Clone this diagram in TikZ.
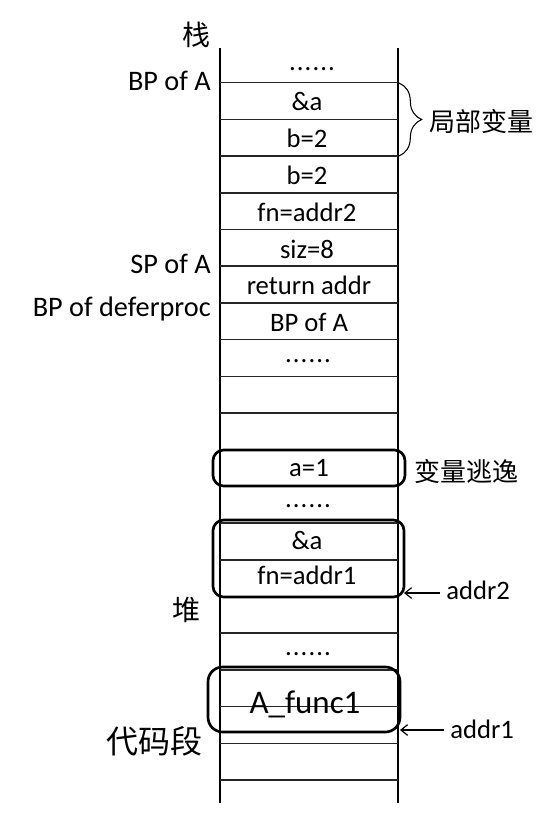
\documentclass[tikz,border=0pt]{standalone}
\usepackage{fontspec}
\setmainfont{Carlito}
\newfontfamily\cjk{Noto Sans CJK SC}
\usetikzlibrary{arrows.meta,decorations.pathreplacing}

\newcommand\sixdots{.\kern0.8pt.\kern0.8pt.\kern0.8pt.\kern0.8pt.\kern0.8pt.}

\begin{document}
\begin{tikzpicture}[x=0.75pt,y=0.75pt,yscale=-1,xscale=1,
	rowline/.style={line width=1.1pt,draw=black!85},
	colline/.style={line width=1.5pt},
	cell/.style={anchor=base,inner sep=0.75pt,font=\fontsize{20}{23}\selectfont},
	sidelabel/.style={inner sep=0.75pt,font=\fontsize{21.2}{24}\selectfont},
	hanzi/.style={inner sep=0.75pt,font=\cjk\fontsize{19.5}{23}\selectfont},
	rbox/.style={draw,line width=2pt,rounded corners=8pt,inner sep=0pt,outer sep=0pt},
	ptr/.style={-{Straight Barb[length=5pt,width=8pt]},line width=0.9pt}]
	\useasboundingbox (0,0) rectangle (545,820);

	%Straight Lines (left and right side of the column)
	\draw [colline]   (220,48) -- (220,803) ;
	\draw [colline]   (398,48) -- (398,803) ;

	%Straight Lines
	\draw [rowline]   (220,82.7) -- (398,82.7) ;
	%Straight Lines
	\draw [rowline]   (220,119.4) -- (398,119.4) ;
	%Straight Lines
	\draw [rowline]   (220,156.1) -- (398,156.1) ;
	%Straight Lines
	\draw [rowline]   (220,192.8) -- (398,192.8) ;
	%Straight Lines
	\draw [rowline]   (220,229.5) -- (398,229.5) ;
	%Straight Lines
	\draw [rowline]   (220,266.2) -- (398,266.2) ;
	%Straight Lines
	\draw [rowline]   (220,302.9) -- (398,302.9) ;
	%Straight Lines
	\draw [rowline]   (220,339.6) -- (398,339.6) ;
	%Straight Lines
	\draw [rowline]   (220,376.3) -- (398,376.3) ;
	%Straight Lines
	\draw [rowline]   (220,413) -- (398,413) ;
	%Straight Lines
	\draw [rowline]   (220,449.7) -- (398,449.7) ;
	%Straight Lines
	\draw [rowline]   (220,486.4) -- (398,486.4) ;
	%Straight Lines
	\draw [rowline]   (220,523.1) -- (398,523.1) ;
	%Straight Lines
	\draw [rowline]   (220,559.8) -- (398,559.8) ;
	%Straight Lines
	\draw [rowline]   (220,596.5) -- (398,596.5) ;
	%Straight Lines
	\draw [rowline]   (220,633.2) -- (398,633.2) ;
	%Straight Lines
	\draw [rowline]   (220,669.9) -- (398,669.9) ;
	%Straight Lines
	\draw [rowline]   (220,706.6) -- (398,706.6) ;
	%Straight Lines
	\draw [rowline]   (220,743.3) -- (398,743.3) ;
	%Straight Lines
	\draw [rowline]   (220,780) -- (398,780) ;

	% Rounded boxes
	\node (escbox) [rbox, minimum width=144pt, minimum height=27pt] at (309,468) {};
	\node (clobox) [rbox, minimum width=143.25pt, minimum height=57.75pt] at (308.5,558.5) {};
	\node (funcbox) [rbox, rounded corners=11pt, minimum width=144pt, minimum height=48.75pt] at (304,699.5) {};

	% Text Node
	\draw (312,71) node (topdots) [cell] {\sixdots};
	% Text Node
	\draw (307,111) node (ampa) [cell] {\&a};
	% Text Node
	\draw (307,147.5) node (bvar) [cell] {b=2};
	% Text Node
	\draw (307,184.5) node (bcopy) [cell] {b=2};
	% Text Node
	\draw (307,221) node (fnaddr) [cell] {fn=addr2};
	% Text Node
	\draw (307,258) node (siz) [cell] {siz=8};
	% Text Node
	\draw (309,294.5) node (retaddr) [cell] {return addr};
	% Text Node
	\draw (309,331) node (bpa) [cell] {BP of A};
	% Text Node
	\draw (308,362) node (middots) [cell] {\sixdots};
	% Text Node
	\draw (309,476) node (avar) [cell] {a=1};
	% Text Node
	\draw (308,507) node (heapdots) [cell] {\sixdots};
	% Text Node
	\draw (307,549) node (heapampa) [cell] {\&a};
	% Text Node
	\draw (307,584.3) node (fnaddrone) [cell] {fn=addr1};
	% Text Node
	\draw (308,655) node (codedots) [cell] {\sixdots};
	% Text Node
	\draw (305,713) node (functxt) [cell, font=\fontsize{24.75}{28}\selectfont] {A\_func1};

	% Text Node
	\draw (212,90.7) node (bpofa) [sidelabel, anchor=base east] {BP of A};
	% Text Node
	\draw (212,273.3) node (spofa) [sidelabel, anchor=base east] {SP of A};
	% Text Node
	\draw (212,316.7) node (bpdefer) [sidelabel, anchor=base east] {BP of deferproc};
	% Text Node
	\draw (445,599) node (addrtwo) [cell, anchor=base west] {addr2};
	% Text Node
	\draw (449,738) node (addrone) [cell, anchor=base west] {addr1};

	% Text Node
	\draw (196,35) node (stack) [hanzi, font=\cjk\fontsize{21}{24}\selectfont] {栈};
	% Text Node
	\draw (428,122) node (locals) [hanzi, anchor=west] {局部变量};
	% Text Node
	\draw (413,472) node (escape) [hanzi, anchor=west] {变量逃逸};
	% Text Node
	\draw (186,610) node (heap) [hanzi, font=\cjk\fontsize{21}{24}\selectfont] {堆};
	% Text Node
	\draw (154,741) node (codeseg) [hanzi, font=\cjk\fontsize{24}{27}\selectfont] {代码段};

	% Brace
	\draw [decorate, decoration={brace, amplitude=17pt}, line width=0.8pt]   (399,83) -- (399,156) ;

	% Arrows
	\coordinate (twotail) at (440,593);
	\coordinate (onetail) at (444,730);
	\draw [ptr]   (twotail) -- (clobox.east |- twotail) ;
	\draw [ptr]   (onetail) -- (funcbox.east |- onetail) ;
\end{tikzpicture}
\end{document}
